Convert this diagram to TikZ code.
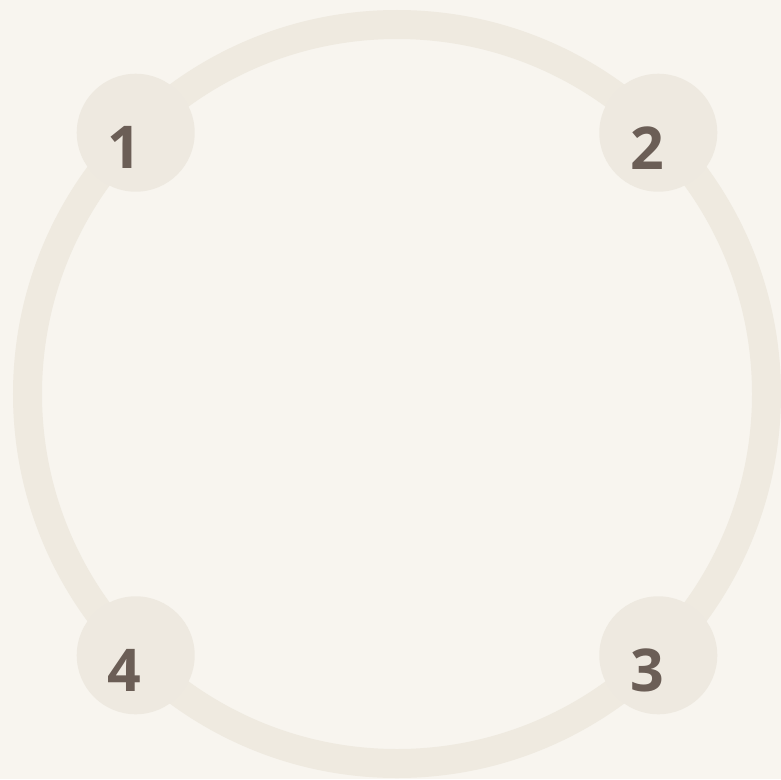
\documentclass[tikz,border=0pt]{standalone}
\usepackage{fontspec}
\setmainfont{Open Sans}
\usepackage{tikz}
\usetikzlibrary{positioning,calc}
\definecolor{paper}{HTML}{F8F5EF}
\definecolor{ringline}{HTML}{EFEAE0}
\definecolor{dot}{HTML}{EEE9E0}
\definecolor{numtext}{HTML}{6B5E56}

\begin{document}
\begin{tikzpicture}[
  x=1pt, y=-1pt,
  disc/.style={circle, fill=dot, minimum size=118pt, inner sep=0pt},
  num/.style={font=\fontsize{59}{59}\selectfont\bfseries, text=numtext, inner sep=0pt},
]
  \fill[paper] (0,0) rectangle (781,779);
  \useasboundingbox (0,0) rectangle (781,779);

  % big ring
  \coordinate (centre) at (397,394);
  \draw[ringline, line width=29pt] (centre) circle[radius=369.5pt];

  % the four discs on the ring
  \node[disc] (c1) at ($(centre)+(135:369.5pt)$) {};
  \node[disc] (c2) at ($(centre)+(45:369.5pt)$) {};
  \node[disc] (c3) at ($(centre)+(-45:369.5pt)$) {};
  \node[disc] (c4) at ($(centre)+(-135:369.5pt)$) {};

  \foreach \n in {1,2,3,4}
    \node[num] (t\n) at ($(c\n)+(-11,15)$) {\n};
\end{tikzpicture}
\end{document}
